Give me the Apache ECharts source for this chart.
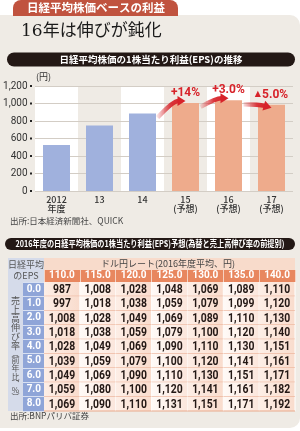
<!DOCTYPE html>
<html>
<head>
<meta charset="utf-8">
<script src="https://cdn.jsdelivr.net/npm/echarts@6/dist/echarts.min.js"></script>
<style>
  html, body { margin: 0; padding: 0; background: #fff; }
  #chart { width: 300px; height: 431px; }
</style>
</head>
<body>
<div id="chart"></div>
<script>
// EPS bars
const years = ['2012\n年度', '13', '14', '15\n(予想)', '16\n(予想)', '17\n(予想)']
const eps = [525, 750, 885, 1007, 1037, 985]
const forecast = [false, false, false, true, true, true]
const changes = ['', '', '', '+14%', '+3.0%', '{t|▲}5.0%']

// 2016 EPS table
const rates = ['110.0', '115.0', '120.0', '125.0', '130.0', '135.0', '140.0']
const growth = ['0.0', '1.0', '2.0', '3.0', '4.0', '5.0', '6.0', '7.0', '8.0']
const epsTable = [
  [987, 1008, 1028, 1048, 1069, 1089, 1110],
  [997, 1018, 1038, 1059, 1079, 1099, 1120],
  [1008, 1028, 1049, 1069, 1089, 1110, 1130],
  [1018, 1038, 1059, 1079, 1100, 1120, 1140],
  [1028, 1049, 1069, 1090, 1110, 1130, 1151],
  [1039, 1059, 1079, 1100, 1120, 1141, 1161],
  [1049, 1069, 1090, 1110, 1130, 1151, 1171],
  [1059, 1080, 1100, 1120, 1141, 1161, 1182],
  [1069, 1090, 1110, 1131, 1151, 1171, 1192]
]

const JP = '"Noto Sans CJK JP", "Noto Sans", sans-serif'
const NUM = 'Roboto, "Noto Sans CJK JP", sans-serif'
const RED = '#d7232a'

const fmt = v => v.toLocaleString('en-US')

const cells = []
epsTable.forEach((row, r) => {
  row.forEach((v, c) => cells.push([c, r, v]))
})

const chart = echarts.init(document.getElementById('chart'))

const option = {
  animation: false,
  grid: [
    { left: 35, right: 7, top: 86, height: 105 },
    { left: 44, right: 5, top: 282, height: 129 }
  ],
  xAxis: [
    {
      type: 'category',
      gridIndex: 0,
      z: 0,
      data: years,
      axisLine: { show: false },
      axisTick: { show: false },
      splitArea: { show: true, areaStyle: { color: ['#ffffff', 'rgba(0,0,0,0)'] } },
      axisLabel: {
        color: '#333', fontSize: 9, lineHeight: 9, margin: 4,
        fontFamily: JP, fontWeight: 500
      }
    },
    {
      type: 'category',
      gridIndex: 1,
      position: 'top',
      data: rates,
      axisLine: { show: false },
      axisTick: { show: true, length: 12, lineStyle: { color: '#f6d2c2', width: 1 } },
      axisLabel: { color: '#fff', fontSize: 10, fontWeight: 'bold', fontFamily: NUM, margin: 2 }
    }
  ],
  yAxis: [
    {
      type: 'value',
      gridIndex: 0,
      z: 1,
      min: 0,
      max: 1200,
      interval: 200,
      name: '(円)',
      nameLocation: 'end',
      nameGap: 0,
      nameTextStyle: { color: '#333', fontSize: 9, fontFamily: JP, align: 'left', verticalAlign: 'middle', padding: [0, 0, 0, 1] },
      axisLine: { show: false },
      axisTick: { show: false },
      splitLine: { lineStyle: { color: '#d3cdc5', width: 1 } },
      axisLabel: {
        margin: 3,
        formatter: v => fmt(v) + ' {d|}',
        color: '#333', fontSize: 10, fontFamily: NUM,
        rich: { d: { width: 2, height: 2, backgroundColor: '#222' } }
      }
    },
    {
      type: 'category',
      gridIndex: 1,
      inverse: true,
      data: growth,
      axisLine: { show: false },
      axisTick: { show: true, length: 21, lineStyle: { color: '#d8e0f2', width: 1 } },
      axisLabel: { color: '#fff', fontSize: 10, fontWeight: 'bold', fontFamily: NUM, margin: 3 }
    }
  ],
  series: [
    {
      type: 'bar',
      xAxisIndex: 0,
      yAxisIndex: 0,
      barWidth: 27,
      z: 3,
      data: eps.map((v, i) => ({
        value: v,
        itemStyle: { color: forecast[i] ? '#eeab8c' : '#a0b1dd' },
        label: { show: !!changes[i] }
      })),
      label: {
        position: 'top',
        distance: 4,
        formatter: p => changes[p.dataIndex],
        color: RED, fontSize: 12, fontWeight: 'bold', fontFamily: NUM,
        rich: { t: { fontSize: 8, color: RED, fontFamily: '"DejaVu Sans"', padding: [0, 1, 1, 0] } }
      }
    },
    {
      type: 'custom',
      xAxisIndex: 1,
      yAxisIndex: 1,
      data: cells,
      encode: { x: 0, y: 1 },
      renderItem: (params, api) => {
        const p = api.coord([api.value(0), api.value(1)])
        const s = api.size([1, 1])
        const x = p[0] - s[0] / 2
        const y = p[1] - s[1] / 2
        const even = api.value(0) % 2 === 0
        return {
          type: 'group',
          children: [
            {
              type: 'rect',
              shape: { x: x, y: y, width: s[0], height: s[1] },
              style: {
                fill: new echarts.graphic.LinearGradient(0, 0, 1, 0, [
                  { offset: 0, color: even ? '#fdeee6' : '#fffaf7' },
                  { offset: 1, color: even ? '#f9dccd' : '#fbe6dc' }
                ])
              }
            },
            { type: 'rect', shape: { x: x + s[0] - 0.5, y: y, width: 1, height: s[1] }, style: { fill: '#ffffff' } },
            { type: 'rect', shape: { x: x, y: y + s[1] - 0.5, width: s[0], height: 1 }, style: { fill: '#eaa98c' } },
            {
              type: 'text',
              x: p[0], y: p[1] + 0.5,
              scaleX: 0.8,
              style: {
                text: fmt(api.value(2)),
                x: 0, y: 0,
                align: 'center', verticalAlign: 'middle',
                fontSize: 13, fontWeight: 'bold', fontFamily: NUM,
                fill: '#231815'
              }
            }
          ]
        }
      }
    }
  ]
}

chart.setOption(option)

// fixed decorations of the panel
const vertical = '{a|売}\n{a|上}\n{a|高}\n{a|伸}\n{a|び}\n{a|率}\n{p|︵}\n{b|前}\n{b|年}\n{b|比}\n{p|︑}\n{b|%}\n{p|︶}'
const graphics = [
  { type: 'rect', z: -5, shape: { x: 0, y: 15, width: 300, height: 413, r: [0, 10, 10, 0] }, style: { fill: '#efebe5' } },
  { type: 'rect', z: -4, shape: { x: 13, y: 0, width: 165, height: 16, r: [8, 8, 0, 0] }, style: { fill: '#c0533f' } },
  { type: 'text', z: 5, style: { text: '日経平均株価ベースの利益', x: 96, y: 8, align: 'center', verticalAlign: 'middle', fill: '#fff', fontSize: 11.5, fontWeight: 'bold', fontFamily: JP } },
  { type: 'text', z: 5, style: { text: '16年は伸びが鈍化', x: 21, y: 32, align: 'left', verticalAlign: 'middle', fill: '#1a1a1a', fontSize: 17, fontFamily: '"DejaVu Serif", "Noto Sans CJK JP", serif' } },
  { type: 'rect', z: -4, shape: { x: 7, y: 52.5, width: 288, height: 14, r: 7 }, style: { fill: '#231815' } },
  { type: 'text', z: 5, style: { text: '日経平均株価の1株当たり利益(EPS)の推移', x: 151, y: 59.5, align: 'center', verticalAlign: 'middle', fill: '#fff', fontSize: 9.5, fontWeight: 'bold', fontFamily: JP } },
  { type: 'text', z: 5, style: { text: '出所:日本経済新聞社、QUICK', x: 10, y: 221, align: 'left', verticalAlign: 'middle', fill: '#444', fontSize: 8.5, fontFamily: JP } },
  { type: 'rect', z: -4, shape: { x: 5, y: 238, width: 290, height: 12, r: 6 }, style: { fill: '#231815' } },
  { type: 'text', z: 5, x: 150, y: 244, scaleX: 0.8, style: { text: '2016年度の日経平均株価の1株当たり利益(EPS)予想(為替と売上高伸び率の前提別)', x: 0, y: 0, align: 'center', verticalAlign: 'middle', fill: '#fff', fontSize: 9, fontWeight: 'bold', fontFamily: JP } },
  { type: 'rect', z: -4, shape: { x: 8, y: 258, width: 36, height: 24 }, style: { fill: '#d5dbea' } },
  { type: 'text', z: 5, style: { text: '日経平均\nのEPS', x: 26, y: 270, align: 'center', verticalAlign: 'middle', fill: '#555', fontSize: 9, lineHeight: 11, fontFamily: JP } },
  { type: 'rect', z: -4, shape: { x: 44, y: 258, width: 251, height: 12 }, style: { fill: '#f8dbcb' } },
  { type: 'text', z: 5, style: { text: 'ドル円レート(2016年度平均、円)', x: 168, y: 264, align: 'center', verticalAlign: 'middle', fill: '#444', fontSize: 9, fontFamily: JP } },
  { type: 'rect', z: -4, shape: { x: 44, y: 270, width: 251, height: 12 }, style: { fill: '#e8875f' } },
  { type: 'rect', z: -4, shape: { x: 8, y: 282, width: 15, height: 129 }, style: { fill: '#d5dbea' } },
  { type: 'rect', z: -4, shape: { x: 23, y: 282, width: 21, height: 129 }, style: { fill: '#8fa5d8' } },
  {
    type: 'text', z: 5,
    style: {
      text: vertical, x: 15.5, y: 348, align: 'center', verticalAlign: 'middle', fill: '#555', fontFamily: JP,
      rich: {
        a: { fontSize: 9, lineHeight: 9, fontFamily: JP, fill: '#555' },
        b: { fontSize: 8, lineHeight: 8.5, fontFamily: JP, fill: '#555' },
        p: { fontSize: 8, lineHeight: 5, fontFamily: JP, fill: '#555' }
      }
    }
  },
  { type: 'text', z: 5, style: { text: '出所:BNPパリバ証券', x: 10, y: 416, align: 'left', verticalAlign: 'middle', fill: '#444', fontSize: 8.5, fontFamily: JP } }
]

// growth arrows between forecast bars, placed from the bar positions
for (let k = 2; k < 5; k++) {
  const a = chart.convertToPixel({ seriesIndex: 0 }, [k, eps[k]])
  const b = chart.convertToPixel({ seriesIndex: 0 }, [k + 1, eps[k + 1]])
  const p0 = [a[0] + 15, a[1] + 4]
  const tip = [b[0], b[1] + (eps[k + 1] < eps[k] ? 3 : -2)]
  const cp = [p0[0] + (tip[0] - p0[0]) * 0.55, Math.min(p0[1], tip[1])]
  const ang = Math.atan2(tip[1] - cp[1], tip[0] - cp[0])
  const dx = Math.cos(ang), dy = Math.sin(ang)
  const base = [tip[0] - dx * 8, tip[1] - dy * 8]
  graphics.push({
    type: 'bezierCurve', z: 6,
    shape: { x1: p0[0], y1: p0[1], x2: base[0] + dx, y2: base[1] + dy, cpx1: cp[0], cpy1: cp[1] },
    style: {
      fill: null, lineWidth: 4.5,
      stroke: new echarts.graphic.LinearGradient(0, 0, 1, 0, [
        { offset: 0, color: 'rgba(215,35,42,0)' },
        { offset: 0.6, color: 'rgba(215,35,42,0.9)' },
        { offset: 1, color: RED }
      ])
    }
  })
  graphics.push({
    type: 'polygon', z: 6,
    shape: { points: [tip, [base[0] - dy * 5, base[1] + dx * 5], [base[0] + dy * 5, base[1] - dx * 5]] },
    style: { fill: RED }
  })
}

chart.setOption({ graphic: graphics })
</script>
</body>
</html>
